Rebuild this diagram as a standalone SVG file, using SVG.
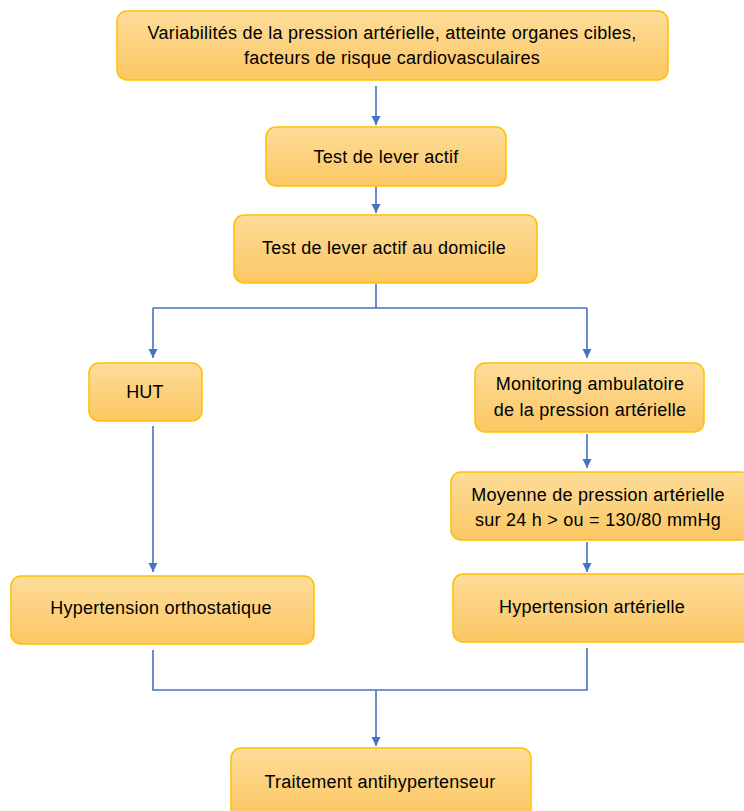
<svg xmlns="http://www.w3.org/2000/svg" width="744" height="811" viewBox="0 0 744 811">
<defs>
<linearGradient id="g" x1="0" y1="0" x2="0" y2="1">
<stop offset="0" stop-color="#FEDC9A"/>
<stop offset="1" stop-color="#FBC762"/>
</linearGradient>
<marker id="ah" markerWidth="10" markerHeight="10" refX="9" refY="5" orient="auto" markerUnits="userSpaceOnUse">
<path d="M0,0.5 L9,5 L0,9.5 Z" fill="#4472C4"/>
</marker>
<style>
.box{fill:url(#g);stroke:#FFC000;stroke-width:1.5}
.t{font-family:"Liberation Sans",Arial,sans-serif;font-size:18px;letter-spacing:0.25px;fill:#000;text-anchor:middle}
.c{fill:none;stroke:#4472C4;stroke-width:1.6}
</style>
</defs>
<rect width="744" height="811" fill="#fff"/>
<g id="connectors">
<path class="c" d="M376,86 V125" marker-end="url(#ah)"/>
<path class="c" d="M376,187 V213" marker-end="url(#ah)"/>
<path class="c" d="M376,284 V308 M153,308 H587"/>
<path class="c" d="M153,308 V358" marker-end="url(#ah)"/>
<path class="c" d="M587,308 V358" marker-end="url(#ah)"/>
<path class="c" d="M153,426 V572" marker-end="url(#ah)"/>
<path class="c" d="M587,434 V468" marker-end="url(#ah)"/>
<path class="c" d="M587,542 V572" marker-end="url(#ah)"/>
<path class="c" d="M153,650 V690 H587 V648"/>
<path class="c" d="M376,690 V746" marker-end="url(#ah)"/>
</g>
<g id="n1"><rect class="box" x="117" y="11" width="551" height="69" rx="10"/>
<text class="t" x="392" y="39">Variabilités de la pression artérielle, atteinte organes cibles,</text>
<text class="t" x="392" y="64">facteurs de risque cardiovasculaires</text></g>
<g id="n2"><rect class="box" x="266" y="127" width="240" height="59" rx="10"/>
<text class="t" x="386" y="163">Test de lever actif</text></g>
<g id="n3"><rect class="box" x="234" y="215" width="303" height="68" rx="10"/>
<text class="t" x="384" y="254">Test de lever actif au domicile</text></g>
<g id="n4"><rect class="box" x="89" y="363" width="113" height="58" rx="10"/>
<text class="t" x="145" y="398">HUT</text></g>
<g id="n5"><rect class="box" x="475" y="363" width="229" height="69" rx="10"/>
<text class="t" x="590" y="390">Monitoring ambulatoire</text>
<text class="t" x="590" y="416">de la pression artérielle</text></g>
<g id="n6"><rect class="box" x="451" y="472" width="300" height="68" rx="10"/>
<text class="t" x="598" y="501">Moyenne de pression artérielle</text>
<text class="t" x="598" y="526">sur 24 h &gt; ou = 130/80 mmHg</text></g>
<g id="n7"><rect class="box" x="453" y="574" width="300" height="68" rx="10"/>
<text class="t" x="592" y="613">Hypertension artérielle</text></g>
<g id="n8"><rect class="box" x="11" y="576" width="303" height="68" rx="10"/>
<text class="t" x="161" y="614">Hypertension orthostatique</text></g>
<g id="n9"><rect class="box" x="231" y="748" width="300" height="70" rx="10"/>
<text class="t" x="380" y="788">Traitement antihypertenseur</text></g>
</svg>
